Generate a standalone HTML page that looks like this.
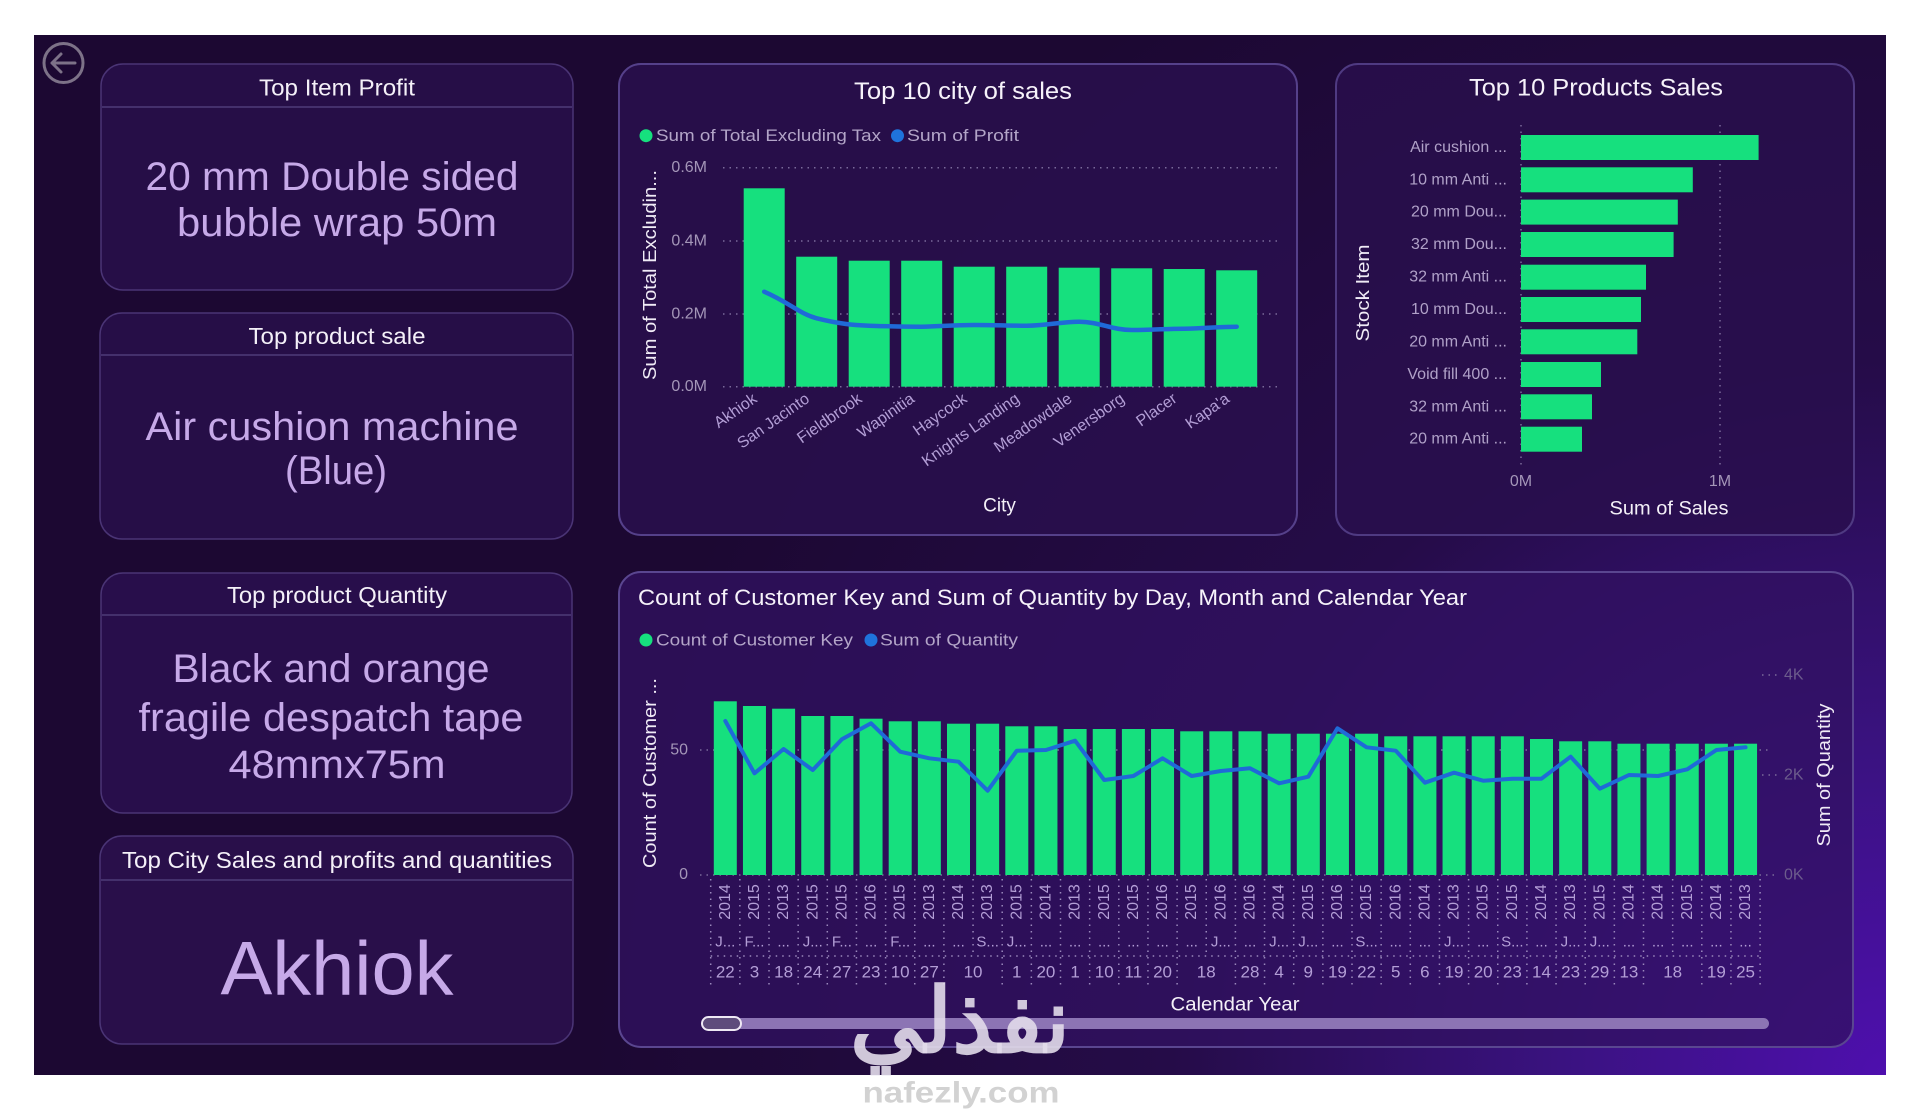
<!DOCTYPE html>
<html><head><meta charset="utf-8"><style>
html,body{margin:0;padding:0;background:#fff;width:1920px;height:1110px;overflow:hidden}
svg{display:block}
text{font-family:"Liberation Sans",sans-serif}
</style></head><body>
<svg width="1920" height="1110" viewBox="0 0 1920 1110" xmlns="http://www.w3.org/2000/svg">
<defs>
<radialGradient id="bg" gradientUnits="userSpaceOnUse" cx="1886" cy="1075" r="1300">
<stop offset="0" stop-color="#4e0fae"/>
<stop offset="0.25" stop-color="#3a1280"/>
<stop offset="0.55" stop-color="#250c48"/>
<stop offset="1" stop-color="#1c0832"/>
</radialGradient>
</defs>
<rect width="1920" height="1110" fill="#ffffff"/>
<rect x="34" y="35" width="1852" height="1040" fill="url(#bg)"/>

<!-- back icon -->
<circle cx="63.5" cy="63" r="19.5" fill="none" stroke="#7d7288" stroke-width="3"/>
<path d="M75 63 H52 M61 54 L52 63 L61 72" fill="none" stroke="#7d7288" stroke-width="3" stroke-linecap="round" stroke-linejoin="round"/>

<!-- KPI cards -->
<g stroke="#4a3475" stroke-width="1.5">
<rect x="101" y="64" width="472" height="226" rx="22" fill="#280f4b" fill-opacity="0.85"/>
<rect x="100" y="313" width="473" height="226" rx="22" fill="#280f4b" fill-opacity="0.85"/>
<rect x="101" y="573" width="471" height="240" rx="22" fill="#2a104e" fill-opacity="0.9"/>
<rect x="100" y="836" width="473" height="208" rx="22" fill="#2b104f" fill-opacity="0.85"/>
</g>
<g stroke="#4e3c78" stroke-width="1.5">
<line x1="102" y1="107" x2="572" y2="107"/>
<line x1="101" y1="355" x2="572" y2="355"/>
<line x1="102" y1="615" x2="571" y2="615"/>
<line x1="101" y1="880" x2="572" y2="880"/>
</g>
<g fill="#f4f0f8" font-size="23" text-anchor="middle" dominant-baseline="central">
<text x="337" y="87.5" textLength="156" lengthAdjust="spacingAndGlyphs">Top Item Profit</text>
<text x="337" y="336" textLength="177" lengthAdjust="spacingAndGlyphs">Top product sale</text>
<text x="337" y="595" textLength="220" lengthAdjust="spacingAndGlyphs">Top product Quantity</text>
<text x="337" y="860" textLength="430" lengthAdjust="spacingAndGlyphs">Top City Sales and profits and quantities</text>
</g>
<g fill="#c6a9e8" font-size="40" text-anchor="middle" dominant-baseline="central">
<text x="332" y="177" textLength="373" lengthAdjust="spacingAndGlyphs">20 mm Double sided</text>
<text x="337" y="223" textLength="320" lengthAdjust="spacingAndGlyphs">bubble wrap 50m</text>
<text x="332" y="427" textLength="373" lengthAdjust="spacingAndGlyphs">Air cushion machine</text>
<text x="336" y="471" textLength="102" lengthAdjust="spacingAndGlyphs">(Blue)</text>
<text x="331" y="669" textLength="317" lengthAdjust="spacingAndGlyphs">Black and orange</text>
<text x="331" y="718" textLength="385" lengthAdjust="spacingAndGlyphs">fragile despatch tape</text>
<text x="337" y="765" textLength="217" lengthAdjust="spacingAndGlyphs">48mmx75m</text>
<text x="337" y="969" font-size="76" textLength="233" lengthAdjust="spacingAndGlyphs">Akhiok</text>
</g>

<!-- Chart 1: Top 10 city of sales -->
<rect x="619" y="64" width="678" height="471" rx="22" fill="#290f4d" fill-opacity="0.85" stroke="#55408a" stroke-width="2"/>
<text x="963" y="91.7" fill="#f6f2fa" font-size="24" text-anchor="middle" dominant-baseline="central" textLength="218" lengthAdjust="spacingAndGlyphs">Top 10 city of sales</text>
<circle cx="646" cy="135.7" r="6.5" fill="#16e07e"/>
<text x="656" y="135.7" fill="#b3a5c8" font-size="17" dominant-baseline="central" textLength="225" lengthAdjust="spacingAndGlyphs">Sum of Total Excluding Tax</text>
<circle cx="897.5" cy="135.7" r="6.5" fill="#1f73dc"/>
<text x="907" y="135.7" fill="#b3a5c8" font-size="17" dominant-baseline="central" textLength="112" lengthAdjust="spacingAndGlyphs">Sum of Profit</text>
<g stroke="#7a6a9a" stroke-width="1.5" stroke-dasharray="1.5 5">
<line x1="723" y1="167.7" x2="1280" y2="167.7"/>
<line x1="723" y1="241" x2="1280" y2="241"/>
<line x1="723" y1="314" x2="1280" y2="314"/>
<line x1="723" y1="386.7" x2="1280" y2="386.7"/>
</g>
<g fill="#a496b8" font-size="16" text-anchor="end" dominant-baseline="central">
<text x="707" y="167.7">0.6M</text>
<text x="707" y="241">0.4M</text>
<text x="707" y="314">0.2M</text>
<text x="707" y="386.7">0.0M</text>
</g>
<g fill="#16e07e">
<rect x="743.7" y="188.3" width="41" height="198.4"/>
<rect x="796.2" y="256.7" width="41" height="130"/>
<rect x="848.7" y="260.7" width="41" height="126"/>
<rect x="901.2" y="260.7" width="41" height="126"/>
<rect x="953.7" y="266.7" width="41" height="120"/>
<rect x="1006.2" y="266.7" width="41" height="120"/>
<rect x="1058.7" y="267.7" width="41" height="119"/>
<rect x="1111.2" y="268.3" width="41" height="118.4"/>
<rect x="1163.7" y="269" width="41" height="117.7"/>
<rect x="1216.2" y="270.3" width="41" height="116.4"/>
</g>
<path d="M764.2 291.7 C790 303 800 314 816.7 318.3 C840 324 852 325 869.2 325.7 C895 326.5 905 326.7 921.7 326.7 C945 326 955 325 974.2 325 C995 325 1008 325.7 1026.7 325.7 C1048 325.5 1060 321.7 1079.2 321.7 C1100 322 1112 330 1131.7 330 C1155 330 1165 328.7 1184.2 328.7 C1205 328.5 1218 326.7 1236.7 326.7" fill="none" stroke="#1f6ad8" stroke-width="4.5" stroke-linecap="round"/>
<g fill="#b39ed6" font-size="16" text-anchor="end">
<text transform="translate(758,401) rotate(-35)">Akhiok</text>
<text transform="translate(810.5,401) rotate(-35)">San Jacinto</text>
<text transform="translate(863,401) rotate(-35)">Fieldbrook</text>
<text transform="translate(915.5,401) rotate(-35)">Wapinitia</text>
<text transform="translate(968,401) rotate(-35)">Haycock</text>
<text transform="translate(1020.5,401) rotate(-35)">Knights Landing</text>
<text transform="translate(1073,401) rotate(-35)">Meadowdale</text>
<text transform="translate(1125.5,401) rotate(-35)">Venersborg</text>
<text transform="translate(1178,401) rotate(-35)">Placer</text>
<text transform="translate(1230.5,401) rotate(-35)">Kapa'a</text>
</g>
<text x="999.5" y="506" fill="#f4f0f8" font-size="19" text-anchor="middle" dominant-baseline="central">City</text>
<text transform="translate(650,275) rotate(-90)" fill="#f0ebf6" font-size="18" text-anchor="middle" dominant-baseline="central" textLength="210" lengthAdjust="spacingAndGlyphs">Sum of Total Excludin...</text>

<!-- Chart 2: Top 10 Products Sales -->
<rect x="1336" y="64" width="518" height="471" rx="22" fill="#290f4d" fill-opacity="0.8" stroke="#4f3a82" stroke-width="2"/>
<text x="1596" y="88" fill="#f6f2fa" font-size="24" text-anchor="middle" dominant-baseline="central" textLength="254" lengthAdjust="spacingAndGlyphs">Top 10 Products Sales</text>
<g stroke="#7a6a9a" stroke-width="1.5" stroke-dasharray="1.5 5">
<line x1="1521" y1="125" x2="1521" y2="467"/>
<line x1="1720" y1="125" x2="1720" y2="467"/>
</g>
<g fill="#16e07e">
<rect x="1521" y="135" width="237.6" height="25"/>
<rect x="1521" y="167.3" width="171.8" height="25"/>
<rect x="1521" y="199.6" width="156.8" height="25"/>
<rect x="1521" y="232" width="152.6" height="25"/>
<rect x="1521" y="264.7" width="125" height="25"/>
<rect x="1521" y="297" width="120" height="25"/>
<rect x="1521" y="329.3" width="116.3" height="25"/>
<rect x="1521" y="362" width="80" height="25"/>
<rect x="1521" y="394.3" width="71" height="25"/>
<rect x="1521" y="426.7" width="61" height="25"/>
</g>
<g fill="#b0a1c8" font-size="16" text-anchor="end" dominant-baseline="central">
<text x="1507" y="147.5">Air cushion ...</text>
<text x="1507" y="179.8">10 mm Anti ...</text>
<text x="1507" y="212.1">20 mm Dou...</text>
<text x="1507" y="244.5">32 mm Dou...</text>
<text x="1507" y="277.2">32 mm Anti ...</text>
<text x="1507" y="309.5">10 mm Dou...</text>
<text x="1507" y="341.8">20 mm Anti ...</text>
<text x="1507" y="374.5">Void fill 400 ...</text>
<text x="1507" y="406.8">32 mm Anti ...</text>
<text x="1507" y="439.2">20 mm Anti ...</text>
</g>
<g fill="#a496b8" font-size="16" text-anchor="middle" dominant-baseline="central">
<text x="1521" y="481.7">0M</text>
<text x="1720" y="481.7">1M</text>
</g>
<text x="1669" y="509" fill="#f4f0f8" font-size="19" text-anchor="middle" dominant-baseline="central" textLength="119" lengthAdjust="spacingAndGlyphs">Sum of Sales</text>
<text transform="translate(1363,293) rotate(-90)" fill="#f0ebf6" font-size="18" text-anchor="middle" dominant-baseline="central" textLength="97" lengthAdjust="spacingAndGlyphs">Stock Item</text>

<!-- Chart 3 -->
<rect x="619" y="572" width="1234" height="475" rx="22" fill="#321262" fill-opacity="0.75" stroke="#5a4690" stroke-width="2"/>
<text x="638" y="597.3" fill="#f6f2fa" font-size="22" dominant-baseline="central" textLength="829" lengthAdjust="spacingAndGlyphs">Count of Customer Key and Sum of Quantity by Day, Month and Calendar Year</text>
<circle cx="646" cy="640" r="6.5" fill="#16e07e"/>
<text x="656" y="640" fill="#b3a5c8" font-size="17" dominant-baseline="central" textLength="197" lengthAdjust="spacingAndGlyphs">Count of Customer Key</text>
<circle cx="871" cy="640" r="6.5" fill="#1f73dc"/>
<text x="880" y="640" fill="#b3a5c8" font-size="17" dominant-baseline="central" textLength="138" lengthAdjust="spacingAndGlyphs">Sum of Quantity</text>
<g stroke="#7a6a9a" stroke-width="1.5" stroke-dasharray="1.5 5">
<line x1="700" y1="750" x2="1768" y2="750"/>
<line x1="700" y1="875" x2="1776" y2="875"/>
<line x1="1762" y1="675" x2="1778" y2="675"/>
<line x1="1762" y1="775" x2="1778" y2="775"/>
</g>
<g fill="#a496b8" font-size="16" text-anchor="end" dominant-baseline="central">
<text x="688" y="750">50</text>
<text x="688" y="874.3">0</text>
</g>
<g fill="#6c5c8c" font-size="16" dominant-baseline="central">
<text x="1784" y="675">4K</text>
<text x="1784" y="775">2K</text>
<text x="1784" y="875">0K</text>
</g>
<text transform="translate(650,773) rotate(-90)" fill="#f0ebf6" font-size="18" text-anchor="middle" dominant-baseline="central" textLength="190" lengthAdjust="spacingAndGlyphs">Count of Customer ...</text>
<text transform="translate(1824,775) rotate(-90)" fill="#f0ebf6" font-size="18" text-anchor="middle" dominant-baseline="central" textLength="143" lengthAdjust="spacingAndGlyphs">Sum of Quantity</text>
<g id="bars3" fill="#16e07e"></g>
<polyline id="line3" fill="none" stroke="#1f6ad8" stroke-width="4" stroke-linejoin="round" stroke-linecap="round" points=""/>
<g id="sep3" stroke="#9a88bc" stroke-width="1.5" stroke-dasharray="1.5 5"></g>
<g id="yr3" fill="#b39ed6" font-size="16" text-anchor="middle" dominant-baseline="central"></g>
<g id="mo3" fill="#b39ed6" font-size="15" text-anchor="middle" dominant-baseline="central"></g>
<g id="dy3" fill="#b39ed6" font-size="17" text-anchor="middle" dominant-baseline="central"></g>
<text x="1235" y="1005" fill="#f4f0f8" font-size="19" text-anchor="middle" dominant-baseline="central" textLength="129" lengthAdjust="spacingAndGlyphs">Calendar Year</text>
<rect x="702" y="1018" width="1067" height="11" rx="5.5" fill="#8c74b4"/>
<rect x="702" y="1017" width="39" height="13" rx="6.5" fill="#5e4c7c" stroke="#eee8f4" stroke-width="2"/>

<!-- watermark -->
<text x="960" y="1052" fill="#e2dbea" fill-opacity="0.9" font-family="DejaVu Sans, sans-serif" font-weight="bold" font-size="90" text-anchor="middle">نفذلي</text>
<text x="961" y="1093" fill="#d2d2d2" font-size="30" font-weight="bold" text-anchor="middle" dominant-baseline="central" textLength="197" lengthAdjust="spacingAndGlyphs">nafezly.com</text>
</svg>
<script>
(function(){
var NS="http://www.w3.org/2000/svg";
var tops=[701.3,706,708.7,716,716,718.7,721.3,721.3,723.7,723.7,726.3,726.3,729,729,729,729,731.3,731.3,731.3,733.7,733.7,733.7,733.7,736.3,736.3,736.3,736.3,736.3,739,741.3,741.3,743.7,743.7,743.7,743.7,743.7];
var ly=[721,773.3,749,770,739.3,723.3,751.7,758.3,761.7,790.7,750.7,750,740.7,780,776,758.3,776,771,768.3,783.3,776.7,728.3,747.3,750.7,782.7,772.7,780.7,778.7,778.7,756.7,788.7,775,776,769.3,750,747.3];
var yrs=["2014","2015","2013","2015","2015","2016","2015","2013","2014","2013","2015","2014","2013","2015","2015","2016","2015","2016","2016","2014","2015","2016","2015","2016","2014","2013","2015","2015","2014","2013","2015","2014","2014","2015","2014","2013"];
var mos=["J...","F...","...","J...","F...","...","F...","...","...","S...","J...","...","...","...","...","...","...","J...","...","J...","J...","...","S...","...","...","J...","...","S...","...","J...","J...","...","...","...","...","..."];
var days=[[0,0,22],[1,1,3],[2,2,18],[3,3,24],[4,4,27],[5,5,23],[6,6,10],[7,7,27],[8,9,10],[10,10,1],[11,11,20],[12,12,1],[13,13,10],[14,14,11],[15,15,20],[16,17,18],[18,18,28],[19,19,4],[20,20,9],[21,21,19],[22,22,22],[23,23,5],[24,24,6],[25,25,19],[26,26,20],[27,27,23],[28,28,14],[29,29,23],[30,30,29],[31,31,13],[32,33,18],[34,34,19],[35,35,25]];
var x0=710.7,p=29.15,base=875;
function el(n,a,t){var e=document.createElementNS(NS,n);for(var k in a)e.setAttribute(k,a[k]);if(t!=null)e.textContent=t;return e;}
var gb=document.getElementById("bars3"),pts=[],gs=document.getElementById("sep3"),gy=document.getElementById("yr3"),gm=document.getElementById("mo3"),gd=document.getElementById("dy3");
for(var i=0;i<36;i++){
var s=x0+p*i,c=s+14.6;
gb.appendChild(el("rect",{x:(s+3.1).toFixed(2),y:tops[i],width:23,height:(base-tops[i]).toFixed(2)}));
pts.push(c.toFixed(2)+","+ly[i]);
gy.appendChild(el("text",{transform:"translate("+c.toFixed(2)+",902) rotate(-90)"},yrs[i]));
gm.appendChild(el("text",{x:c.toFixed(2),y:942},mos[i]));
}
document.getElementById("line3").setAttribute("points",pts.join(" "));
for(var j=0;j<=36;j++){
var xs=(x0+p*j).toFixed(2);
gs.appendChild(el("line",{x1:xs,y1:879,x2:xs,y2:955}));
}
var bounds={};
days.forEach(function(d){bounds[d[0]]=1;bounds[d[1]+1]=1;
var c=x0+p*d[0]+(p*(d[1]-d[0]+1))/2;
gd.appendChild(el("text",{x:c.toFixed(2),y:972},String(d[2])));});
for(var k in bounds){var xs=(x0+p*k).toFixed(2);gs.appendChild(el("line",{x1:xs,y1:957,x2:xs,y2:988}));}
gs.appendChild(el("line",{x1:x0,y1:956,x2:x0+p*36,y2:956}));
})();
</script>
</body></html>
